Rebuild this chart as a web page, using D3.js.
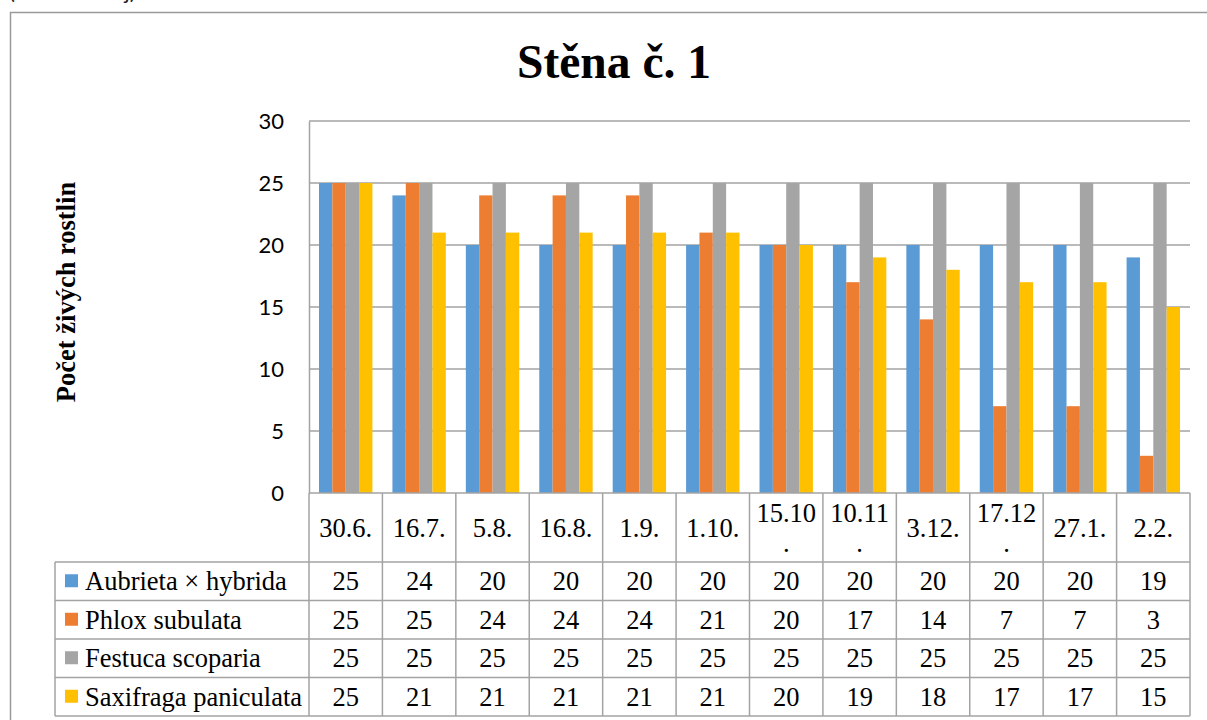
<!DOCTYPE html>
<html>
<head>
<meta charset="utf-8">
<script src="https://cdn.jsdelivr.net/npm/d3@7/dist/d3.min.js"></script>
<style>
  html, body { margin: 0; padding: 0; background: #fff; }
  svg { display: block; }
</style>
</head>
<body>
<svg id="chart" width="1207" height="720"></svg>
<script>
// Dates of the counts
const categories = ["30.6.", "16.7.", "5.8.", "16.8.", "1.9.", "1.10.", "15.10.", "10.11.", "3.12.", "17.12.", "27.1.", "2.2."];

// Number of living plants per species
const seriesNames = ["Aubrieta × hybrida", "Phlox subulata", "Festuca scoparia", "Saxifraga paniculata"];
const aubrieta  = [25, 24, 20, 20, 20, 20, 20, 20, 20, 20, 20, 19];
const phlox     = [25, 25, 24, 24, 24, 21, 20, 17, 14, 7, 7, 3];
const festuca   = [25, 25, 25, 25, 25, 25, 25, 25, 25, 25, 25, 25];
const saxifraga = [25, 21, 21, 21, 21, 21, 20, 19, 18, 17, 17, 15];
const seriesColors = ["#5B9BD5", "#ED7D31", "#A5A5A5", "#FFC000"];

const yTicks = [0, 5, 10, 15, 20, 25, 30];

const series = [aubrieta, phlox, festuca, saxifraga].map((values, i) => ({
  name: seriesNames[i], color: seriesColors[i], values
}));

const svg = d3.select("#chart");
const gridColor = "#a3a3a3";
const serif = "'Liberation Serif', 'Times New Roman', serif";
const sans = "Lato, 'Open Sans', sans-serif";

// Layout
const plot = { left: 309, right: 1190, top: 121, bottom: 493 };
const headerBottom = 562;
const tableBottom = 716;
const legendLeft = 55;
const rowH = (tableBottom - headerBottom) / series.length;

// Source note above the frame, running off the top edge
svg.append("text")
  .attr("x", 9).attr("y", -1)
  .attr("font-family", sans).attr("font-size", 22).attr("fill", "#222")
  .text("(vlastní zdroj)");

// Chart frame
svg.append("rect")
  .attr("x", 10.5).attr("y", 12.5)
  .attr("width", 1240).attr("height", 760)
  .attr("fill", "#fff").attr("stroke", "#9a9a9a").attr("stroke-width", 1.5);

// Title
svg.append("text")
  .attr("x", 614).attr("y", 78)
  .attr("text-anchor", "middle")
  .attr("font-family", serif).attr("font-weight", "bold").attr("font-size", 47.5)
  .text("Stěna č. 1");

// Scales
const x = d3.scaleBand().domain(categories).range([plot.left, plot.right]).paddingInner(0).paddingOuter(0);
const xInner = d3.scaleBand().domain(seriesNames).range([0, x.bandwidth()]).paddingInner(0).paddingOuter(0.75);
const y = d3.scaleLinear().domain([0, 30]).range([plot.bottom, plot.top]);

// Horizontal gridlines
svg.append("g").selectAll("line")
  .data(yTicks.filter(t => t > 0))
  .join("line")
  .attr("x1", plot.left).attr("x2", plot.right)
  .attr("y1", d => y(d)).attr("y2", d => y(d))
  .attr("stroke", gridColor).attr("stroke-width", 1.5);

// Y axis
const yAxis = svg.append("g")
  .attr("transform", `translate(${plot.left},0)`)
  .call(d3.axisLeft(y).tickValues(yTicks).tickSize(0).tickPadding(25));
yAxis.select(".domain").attr("stroke", gridColor).attr("stroke-width", 1.5);
yAxis.selectAll("text")
  .attr("font-family", sans).attr("font-size", 22).attr("fill", "#000");

// Y axis title
svg.append("text")
  .attr("transform", "translate(75,292) rotate(-90)")
  .attr("text-anchor", "middle")
  .attr("font-family", serif).attr("font-weight", "bold").attr("font-size", 26.5)
  .text("Počet živých rostlin");

// Bars
const groups = svg.append("g").selectAll("g")
  .data(series)
  .join("g")
  .attr("fill", d => d.color);
groups.selectAll("rect")
  .data(s => s.values.map((v, i) => ({ name: s.name, cat: categories[i], v })))
  .join("rect")
  .attr("x", d => x(d.cat) + xInner(d.name))
  .attr("width", xInner.bandwidth())
  .attr("y", d => y(d.v))
  .attr("height", d => y(0) - y(d.v));

// Data table
const table = svg.append("g");
const lineAttrs = sel => sel.attr("stroke", gridColor).attr("stroke-width", 1.5).attr("fill", "none");

// Zero line / top of header
table.append("line").attr("x1", plot.left).attr("x2", plot.right)
  .attr("y1", plot.bottom).attr("y2", plot.bottom).call(lineAttrs);
// Row separators
d3.range(series.length + 1).forEach(i => {
  const yy = headerBottom + i * rowH;
  table.append("line").attr("x1", legendLeft).attr("x2", plot.right)
    .attr("y1", yy).attr("y2", yy).call(lineAttrs);
});
// Column separators
const colEdges = categories.map(c => x(c)).concat([plot.right]);
colEdges.forEach(cx => {
  table.append("line").attr("x1", cx).attr("x2", cx)
    .attr("y1", plot.bottom).attr("y2", tableBottom).call(lineAttrs);
});
table.append("line").attr("x1", legendLeft).attr("x2", legendLeft)
  .attr("y1", headerBottom).attr("y2", tableBottom).call(lineAttrs);

// Header labels (wrap when they do not fit the column)
const headerFont = 26.5;
categories.forEach(c => {
  const cx = x(c) + x.bandwidth() / 2;
  const t = table.append("text")
    .attr("x", cx).attr("text-anchor", "middle")
    .attr("font-family", serif).attr("font-size", headerFont)
    .text(c);
  const w = t.node().getComputedTextLength();
  if (w > x.bandwidth() - 12) {
    t.text(c.slice(0, -1)).attr("y", 522);
    table.append("text")
      .attr("x", cx).attr("y", 552).attr("text-anchor", "middle")
      .attr("font-family", serif).attr("font-size", headerFont)
      .text(c.slice(-1));
  } else {
    t.attr("y", 537);
  }
});

// Legend keys, names and values
series.forEach((s, r) => {
  const cy = headerBottom + r * rowH + rowH / 2;
  table.append("rect")
    .attr("x", 65).attr("y", cy - 7).attr("width", 13).attr("height", 13)
    .attr("fill", s.color);
  table.append("text")
    .attr("x", 85).attr("y", cy + 9)
    .attr("font-family", serif).attr("font-size", headerFont)
    .text(s.name);
  s.values.forEach((v, i) => {
    table.append("text")
      .attr("x", x(categories[i]) + x.bandwidth() / 2).attr("y", cy + 9)
      .attr("text-anchor", "middle")
      .attr("font-family", serif).attr("font-size", headerFont)
      .text(v);
  });
});
</script>
</body>
</html>
